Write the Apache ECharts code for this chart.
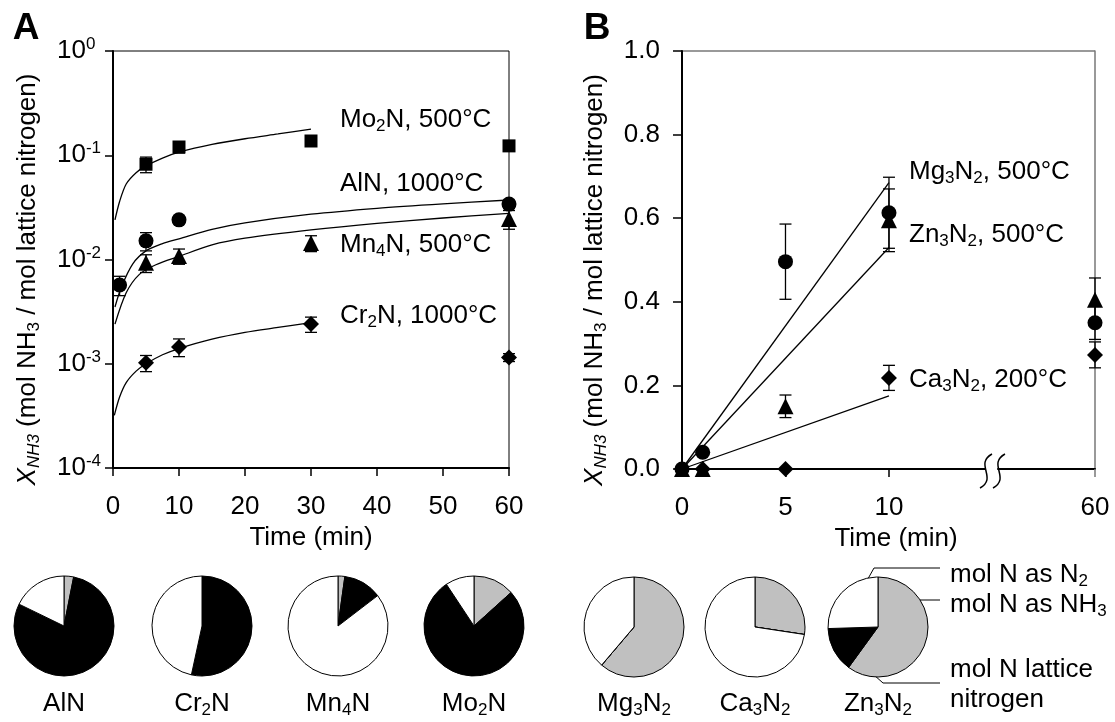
<!DOCTYPE html>
<html>
<head>
<meta charset="utf-8">
<title>NH3 formation from metal nitrides</title>
<script src="https://cdn.jsdelivr.net/npm/echarts@6.0.0/dist/echarts.min.js"></script>
<style>
  html, body { margin: 0; padding: 0; background: #fff; }
  #chart { width: 1115px; height: 722px; }
</style>
</head>
<body>
<div id="chart"></div>
<script>
// ---- panel A: X_NH3 vs time, log scale ----
var timeA = [1, 5, 10, 30, 60];
var mo2n = [null, 0.082, 0.12, 0.137, 0.123];
var mo2nErr = [null, 0.014, 0.015, 0.015, 0.01];
var aln = [0.0057, 0.0151, 0.024, null, 0.034];
var alnErr = [0.0012, 0.003, 0.002, null, 0.003];
var mn4n = [null, 0.0093, 0.0108, 0.0144, 0.0245];
var mn4nErr = [null, 0.0018, 0.0018, 0.0025, 0.005];
var cr2n = [null, 0.00102, 0.00145, 0.0024, 0.00115];
var cr2nErr = [null, 0.00018, 0.00028, 0.0004, 0.0001];

// fitted curves as [time, X]
var mo2nFit = [[0.3, 0.024], [1, 0.036], [2, 0.053], [3.5, 0.068], [5, 0.079], [7.5, 0.094],
  [10, 0.107], [15, 0.127], [20, 0.144], [25, 0.16], [30, 0.178]];
var alnFit = [[0.3, 0.0035], [1.3, 0.0055], [3, 0.0091], [5, 0.0121], [7.5, 0.0142], [10, 0.0158],
  [15, 0.0195], [20, 0.0225], [30, 0.0272], [40, 0.031], [50, 0.0342], [60, 0.0372]];
var mn4nFit = [[0.3, 0.0024], [2, 0.0048], [4, 0.0072], [6.5, 0.0089], [10, 0.0107], [15, 0.0138],
  [20, 0.016], [30, 0.0192], [40, 0.0222], [50, 0.025], [60, 0.0277]];
var cr2nFit = [[0.2, 0.00032], [1, 0.00048], [2, 0.00066], [3.5, 0.00085], [5, 0.001], [7.5, 0.00122],
  [10, 0.0014], [15, 0.00172], [20, 0.002], [25, 0.00223], [30, 0.00248]];

var labelsA = ['Mo2N, 500°C', 'AlN, 1000°C', 'Mn4N, 500°C', 'Cr2N, 1000°C'];

// ---- panel B: X_NH3 vs time, linear, broken axis ----
var timeB = [0, 1, 5, 10, 60];
var mg3n2 = [0, 0.04, 0.496, 0.613, 0.35];
var mg3n2Err = [0, 0, 0.09, 0.085, 0.04];
var zn3n2 = [0, 0, 0.15, 0.595, 0.405];
var zn3n2Err = [0, 0, 0.027, 0.075, 0.052];
var ca3n2 = [0, 0, 0, 0.218, 0.273];
var ca3n2Err = [0, 0, 0, 0.03, 0.031];
var mg3n2Fit = [[0, 0], [10, 0.685]];
var zn3n2Fit = [[0, 0], [10, 0.53]];
var ca3n2Fit = [[0, 0], [10, 0.175]];

var labelsB = ['Mg3N2, 500°C', 'Zn3N2, 500°C', 'Ca3N2, 200°C'];

// ---- pies: share of nitrogen (%) ----
var pieNames = ['AlN', 'Cr2N', 'Mn4N', 'Mo2N', 'Mg3N2', 'Ca3N2', 'Zn3N2'];
var nh3Share = [3.1, 0, 2.2, 13.3, 61.2, 27.4, 60.0];
var latticeShare = [79.1, 53.4, 12.4, 77.4, 0, 0, 14.5];
var n2Share = [17.8, 46.6, 85.4, 9.3, 38.8, 72.6, 25.5];

var FONT = 'Liberation Sans, Arial, sans-serif';
var rich = {
  s: { fontSize: 17, lineHeight: 12, verticalAlign: 'bottom', fontFamily: FONT, color: '#000', fill: '#000' },
  i: { fontSize: 26, lineHeight: 30, fontStyle: 'italic', fontFamily: FONT, color: '#000', fill: '#000' },
  is: { fontSize: 17, lineHeight: 12, verticalAlign: 'bottom', fontStyle: 'italic', fontFamily: FONT, color: '#000', fill: '#000' },
  p: { fontSize: 17, lineHeight: 22, verticalAlign: 'top', fontFamily: FONT, color: '#000', fill: '#000' }
};

// chemical formula digits -> subscripts (only the part before the comma)
function sub(s) {
  var parts = s.split(',');
  parts[0] = parts[0].replace(/(\d+)/g, '{s|$1}');
  return parts.join(',');
}

function pairs(times, vals, lo, hi) {
  var out = [];
  times.forEach(function (t, i) {
    if (vals[i] == null || t < lo || t > hi) return;
    out.push([t, vals[i]]);
  });
  return out;
}

function errs(times, vals, e, lo, hi) {
  var out = [];
  times.forEach(function (t, i) {
    if (vals[i] == null || !e[i] || t < lo || t > hi) return;
    out.push([t, vals[i] - e[i], vals[i] + e[i]]);
  });
  return out;
}

function dots(data, symbol, size, xi, yi) {
  return {
    type: 'scatter', xAxisIndex: xi, yAxisIndex: yi, data: data,
    symbol: symbol, symbolSize: size, itemStyle: { color: '#000', opacity: 1 },
    clip: false, silent: true, z: 4
  };
}

function fit(data, xi, yi) {
  return {
    type: 'line', xAxisIndex: xi, yAxisIndex: yi, data: data,
    showSymbol: false, symbol: 'none', smooth: 0.3,
    lineStyle: { color: '#000', width: 1.3 }, clip: false, silent: true, z: 2
  };
}

function errBars(data, xi, yi) {
  return {
    type: 'custom', xAxisIndex: xi, yAxisIndex: yi, data: data,
    encode: { x: 0, y: [1, 2] }, clip: false, silent: true, z: 3,
    renderItem: function (params, api) {
      var lo = api.coord([api.value(0), api.value(1)]);
      var hi = api.coord([api.value(0), api.value(2)]);
      var w = 6;
      var st = { stroke: '#000', lineWidth: 1.3 };
      return {
        type: 'group', children: [
          { type: 'line', shape: { x1: lo[0], y1: lo[1], x2: hi[0], y2: hi[1] }, style: st },
          { type: 'line', shape: { x1: lo[0] - w, y1: lo[1], x2: lo[0] + w, y2: lo[1] }, style: st },
          { type: 'line', shape: { x1: hi[0] - w, y1: hi[1], x2: hi[0] + w, y2: hi[1] }, style: st }
        ]
      };
    }
  };
}

function pie(i, center) {
  return {
    type: 'pie', center: center, radius: 50, startAngle: 90, clockwise: true,
    silent: true, label: { show: false }, labelLine: { show: false },
    itemStyle: { borderColor: '#000', borderWidth: 1 },
    data: [
      { value: nh3Share[i], itemStyle: { color: '#c0c0c0' } },
      { value: latticeShare[i], itemStyle: { color: '#000' } },
      { value: n2Share[i], itemStyle: { color: '#fff' } }
    ]
  };
}

function txt(x, y, s, extra) {
  var style = {
    text: s, fontSize: 26, lineHeight: 30, fontFamily: FONT, fill: '#000',
    rich: rich, align: 'left', verticalAlign: 'middle'
  };
  for (var k in extra) style[k] = extra[k];
  return { type: 'text', x: x, y: y, silent: true, style: style };
}

var yTitle = '{i|X}{is|NH3} (mol NH{s|3} / mol lattice nitrogen)';
var axisText = { fontSize: 26, color: '#000', fontFamily: FONT };
var blackLine = { lineStyle: { color: '#000', width: 2 } };

var series = [
  fit(mo2nFit, 0, 0), fit(alnFit, 0, 0), fit(mn4nFit, 0, 0), fit(cr2nFit, 0, 0),
  errBars(errs(timeA, mo2n, mo2nErr, 0, 60), 0, 0),
  errBars(errs(timeA, aln, alnErr, 0, 60), 0, 0),
  errBars(errs(timeA, mn4n, mn4nErr, 0, 60), 0, 0),
  errBars(errs(timeA, cr2n, cr2nErr, 0, 60), 0, 0),
  dots(pairs(timeA, mo2n, 0, 60), 'rect', 13, 0, 0),
  dots(pairs(timeA, aln, 0, 60), 'circle', 15, 0, 0),
  dots(pairs(timeA, mn4n, 0, 60), 'triangle', 16, 0, 0),
  dots(pairs(timeA, cr2n, 0, 60), 'diamond', 16, 0, 0),

  fit(mg3n2Fit, 1, 1), fit(zn3n2Fit, 1, 1), fit(ca3n2Fit, 1, 1)
];
// panel B: left part (0-10 min) on grid 1, right part (60 min) on grid 2
[[1, 0, 14], [2, 50, 60]].forEach(function (seg) {
  var g = seg[0], lo = seg[1], hi = seg[2];
  series.push(errBars(errs(timeB, ca3n2, ca3n2Err, lo, hi), g, g));
  series.push(errBars(errs(timeB, zn3n2, zn3n2Err, lo, hi), g, g));
  series.push(errBars(errs(timeB, mg3n2, mg3n2Err, lo, hi), g, g));
  series.push(dots(pairs(timeB, ca3n2, lo, hi), 'diamond', 16, g, g));
  series.push(dots(pairs(timeB, zn3n2, lo, hi), 'triangle', 16, g, g));
  series.push(dots(pairs(timeB, mg3n2, lo, hi), 'circle', 15, g, g));
});

var pieCenters = [[64, 626], [202, 626], [338, 626], [474, 626], [634, 627], [755, 627], [878, 627]];
pieCenters.forEach(function (c, i) { series.push(pie(i, c)); });

var graphic = [
  txt(26, 29, 'A', { fontSize: 37, fontWeight: 'bold', align: 'center', lineHeight: 40 }),
  txt(597, 29, 'B', { fontSize: 37, fontWeight: 'bold', align: 'center', lineHeight: 40 }),
  // frame of panel B (top) and the axis break marks
  { type: 'line', silent: true, shape: { x1: 682, y1: 51, x2: 1095, y2: 51 }, style: { stroke: '#777', lineWidth: 1.5 } },
  { type: 'bezierCurve', silent: true, shape: { x1: 992, y1: 454, cpx1: 974, cpy1: 464, cpx2: 998, cpy2: 478, x2: 980, y2: 488 }, style: { stroke: '#000', lineWidth: 1.5, fill: null } },
  { type: 'bezierCurve', silent: true, shape: { x1: 1005, y1: 454, cpx1: 987, cpy1: 464, cpx2: 1011, cpy2: 478, x2: 993, y2: 488 }, style: { stroke: '#000', lineWidth: 1.5, fill: null } },
  // pie legend with leader lines
  txt(950, 575, 'mol N as N{s|2}'),
  txt(950, 605, 'mol N as NH{s|3}'),
  txt(950, 670, 'mol N lattice'),
  txt(950, 700, 'nitrogen'),
  { type: 'polyline', silent: true, shape: { points: [[940, 568], [874, 568], [860, 593]] }, style: { stroke: '#000', lineWidth: 1, fill: null } },
  { type: 'polyline', silent: true, shape: { points: [[940, 600], [915, 600]] }, style: { stroke: '#000', lineWidth: 1, fill: null } },
  { type: 'polyline', silent: true, shape: { points: [[940, 683], [883, 683], [855, 658]] }, style: { stroke: '#000', lineWidth: 1, fill: null } }
];
var labelYA = [120, 184, 245, 316];
labelsA.forEach(function (s, i) { graphic.push(txt(340, labelYA[i], sub(s))); });
var labelYB = [172, 235, 380];
labelsB.forEach(function (s, i) { graphic.push(txt(909, labelYB[i], sub(s))); });
pieCenters.forEach(function (c, i) {
  graphic.push(txt(c[0], 704, sub(pieNames[i]), { align: 'center' }));
});

var option = {
  animation: false,
  backgroundColor: '#fff',
  textStyle: { fontFamily: FONT },
  grid: [
    { left: 113, top: 51, width: 396, height: 417, show: true, borderColor: '#000', borderWidth: 1, outerBoundsMode: 'none' },
    { left: 682, top: 51, width: 303, height: 418, outerBoundsMode: 'none' },
    { left: 998, top: 51, width: 97, height: 418, outerBoundsMode: 'none' }
  ],
  xAxis: [
    {
      gridIndex: 0, type: 'value', min: 0, max: 60, interval: 10,
      axisLine: blackLine, axisTick: { length: 8, lineStyle: { color: '#000', width: 1.5 } },
      axisLabel: { fontSize: 26, color: '#000', fontFamily: FONT, margin: 26 },
      splitLine: { show: false },
      name: 'Time (min)', nameLocation: 'middle', nameGap: 52, nameTextStyle: axisText
    },
    {
      gridIndex: 1, type: 'value', min: 0, max: 14.64,
      axisLine: blackLine,
      axisTick: { length: 8, customValues: [0, 5, 10], lineStyle: { color: '#000', width: 1.5 } },
      axisLabel: { fontSize: 26, color: '#000', fontFamily: FONT, margin: 26, customValues: [0, 5, 10] },
      splitLine: { show: false },
      name: 'Time (min)', nameLocation: 'middle', nameGap: 54,
      nameTextStyle: { fontSize: 26, color: '#000', fontFamily: FONT, padding: [0, 0, 0, 125] }
    },
    {
      gridIndex: 2, type: 'value', min: 55.31, max: 60,
      axisLine: blackLine,
      axisTick: { length: 8, customValues: [60], lineStyle: { color: '#777', width: 1.5 } },
      axisLabel: { fontSize: 26, color: '#000', fontFamily: FONT, margin: 26, customValues: [60] },
      splitLine: { show: false }
    }
  ],
  yAxis: [
    {
      gridIndex: 0, type: 'log', logBase: 10, min: 0.0001, max: 1,
      axisLine: blackLine, axisTick: { length: 8, lineStyle: { color: '#000', width: 1.5 } },
      axisLabel: {
        fontSize: 26, lineHeight: 30, color: '#000', fontFamily: FONT, align: 'left', margin: 56, rich: rich,
        formatter: function (v) { return '10{p|' + Math.round(Math.log10(v)) + '}'; }
      },
      splitLine: { show: false },
      name: yTitle, nameLocation: 'middle', nameRotate: 90, nameGap: 70,
      nameTextStyle: { fontSize: 26, lineHeight: 30, color: '#000', fontFamily: FONT, rich: rich, padding: [0, 40, 0, 0] }
    },
    {
      gridIndex: 1, type: 'value', min: 0, max: 1, interval: 0.2,
      axisLine: { show: true, lineStyle: { color: '#000', width: 2 } },
      axisTick: { show: true, length: 9, lineStyle: { color: '#000', width: 1.5 } },
      axisLabel: { fontSize: 26, color: '#000', fontFamily: FONT, margin: 22, formatter: function (v) { return v.toFixed(1); } },
      splitLine: { show: false },
      name: yTitle, nameLocation: 'middle', nameRotate: 90, nameGap: 72,
      nameTextStyle: { fontSize: 26, lineHeight: 30, color: '#000', fontFamily: FONT, rich: rich, padding: [0, 40, 0, 0] }
    },
    {
      gridIndex: 2, type: 'value', min: 0, max: 1, position: 'right',
      axisLine: { show: true, lineStyle: { color: '#777', width: 1.5 } },
      axisTick: { show: false }, axisLabel: { show: false }, splitLine: { show: false }
    }
  ],
  graphic: graphic,
  series: series
};

var chart = echarts.init(document.getElementById('chart'));
chart.setOption(option);
</script>
</body>
</html>
